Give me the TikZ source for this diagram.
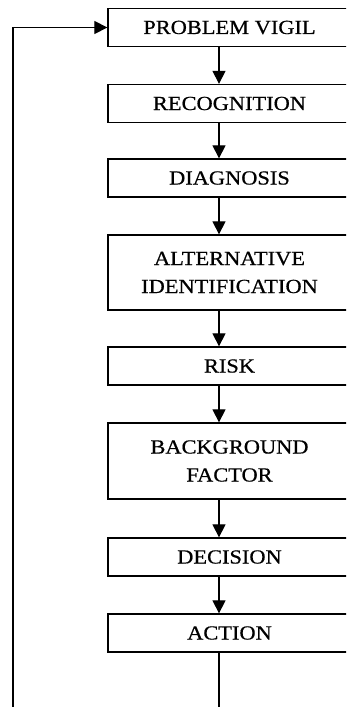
\documentclass[tikz,border=0pt]{standalone}
\usepackage{fontspec}
\usepackage{tikz}
\usetikzlibrary{positioning}
\usetikzlibrary{arrows.meta}
\newfontfamily\boxfont[FakeStretch=1.12,FakeBold=0.6]{Liberation Serif}

\begin{document}
\begin{tikzpicture}[x=1pt, y=-1pt,
    stage/.style={rectangle, draw, line width=1.3pt, minimum width=243pt, minimum height=38pt,
        align=center, font=\boxfont\fontsize{20}{28}\selectfont},
    flow/.style={line width=1.2pt, -{Triangle[width=13pt,length=13pt]}}]
    \useasboundingbox (0,0) rectangle (346,707);
    \clip (0,0) rectangle (346,707);

    % Stages
    \node[stage] (PV) at (229.5,27.5) {PROBLEM VIGIL};
    \node[stage] (REC) at (229.5,103.5) {RECOGNITION};
    \node[stage] (DIAG) at (229.5,178) {DIAGNOSIS};
    \node[stage, minimum height=75pt] (ALT) at (229.5,272.5) {ALTERNATIVE\\IDENTIFICATION};
    \node[stage] (RISK) at (229.5,366) {RISK};
    \node[stage, minimum height=76pt] (BG) at (229.5,461) {BACKGROUND\\FACTOR};
    \node[stage] (DEC) at (229.5,557) {DECISION};
    \node[stage] (ACT) at (229.5,633) {ACTION};

    % Arrow column and feedback loop
    \coordinate (spine) at (219,0);
    \coordinate (loop) at (13,740);

    % Edges
    \draw[flow] (PV.south -| spine) -- (REC.north -| spine);
    \draw[flow] (REC.south -| spine) -- (DIAG.north -| spine);
    \draw[flow] (DIAG.south -| spine) -- (ALT.north -| spine);
    \draw[flow] (ALT.south -| spine) -- (RISK.north -| spine);
    \draw[flow] (RISK.south -| spine) -- (BG.north -| spine);
    \draw[flow] (BG.south -| spine) -- (DEC.north -| spine);
    \draw[flow] (DEC.south -| spine) -- (ACT.north -| spine);

    % Feedback
    \draw[flow] (ACT.south -| spine) |- (loop) |- (PV.west);
\end{tikzpicture}
\end{document}
